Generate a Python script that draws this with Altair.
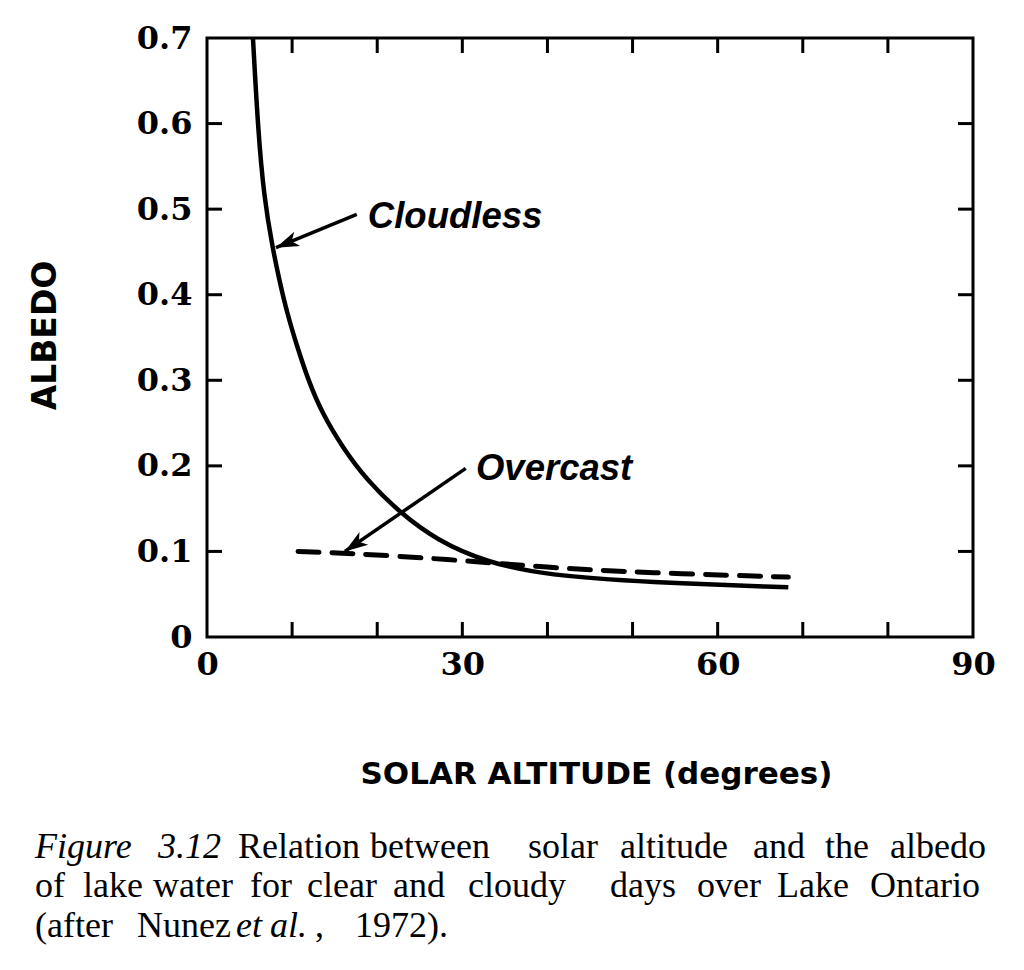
import math
import altair as alt
import pandas as pd

# curves (solar altitude in degrees, albedo)
cloudless_alt = [5.4, 6.0, 6.7, 7.7, 8.5, 9.4, 10.6, 11.9, 13.5, 15.9, 18.8, 22.7, 27.0, 32.9, 40.0, 51.7, 68.3]
cloudless_alb = [0.700, 0.592, 0.514, 0.455, 0.417, 0.379, 0.339, 0.300, 0.262, 0.222, 0.183, 0.145,
                 0.113, 0.087, 0.072, 0.064, 0.058]
overcast_alt = [10.7, 16.4, 28.2, 40.0, 51.7, 68.3]
overcast_alb = [0.100, 0.098, 0.091, 0.081, 0.075, 0.070]

x_labels = [0, 30, 60, 90]
y_labels = [0, 0.1, 0.2, 0.3, 0.4, 0.5, 0.6, 0.7]
x_minor = [10, 20, 30, 40, 50, 60, 70, 80]
y_minor = [0.1, 0.2, 0.3, 0.4, 0.5, 0.6]

# annotation labels and their arrows (tail -> tip, data units)
label_text = ["Cloudless", "Overcast"]
label_alt = [18.9, 31.6]
label_alb = [0.478, 0.183]
arrow_tail_alt = [17.6, 30.4]
arrow_tail_alb = [0.494, 0.197]
arrow_tip_alt = [8.1, 16.2]
arrow_tip_alb = [0.455, 0.100]

caption_words = [
    ["Figure", "3.12", "Relation", "between", "solar", "altitude", "and", "the", "albedo"],
    ["of", "lake", "water", "for", "clear", "and", "cloudy", "days", "over", "Lake", "Ontario"],
    ["(after", "Nunez", "et", "al.", ",", "1972)."],
]
caption_italic = [
    [True, True] + [False] * 7,
    [False] * 11,
    [False, False, True, True, False, False],
]

W, H = 766, 599
XMAX, YMAX = 90, 0.7
# word start positions on the page (justified setting), converted to data units below
caption_page_x = [
    [35, 158, 238, 370, 528, 620, 753, 825, 890],
    [35, 83, 153, 250, 307, 393, 468, 610, 697, 777, 870],
    [35, 137, 236, 270, 315, 355],
]
caption_page_y = [858, 897, 937]
PLOT_LEFT, PLOT_TOP = 207, 38

SERIF = "Liberation Serif"
NUM_FONT = "DejaVu Serif"
SANS = "DejaVu Sans"

xs = alt.Scale(domain=[0, XMAX], nice=False, zero=True)
ys = alt.Scale(domain=[0, YMAX], nice=False, zero=True)

cl = pd.DataFrame({"alt": cloudless_alt, "alb": cloudless_alb})
oc = pd.DataFrame({"alt": overcast_alt, "alb": overcast_alb})

x_axis = alt.Axis(values=x_labels, labelFont=NUM_FONT, labelFontWeight="bold", labelFontSize=32,
                  labelColor="black", labelPadding=12, labelOverlap=False, labelFlush=False,
                  title="SOLAR ALTITUDE (degrees)", titleFont=SANS, titleFontWeight="bold",
                  titleFontSize=31, titleColor="black", titleX=389, titleY=146,
                  titleBaseline="alphabetic")
y_axis = alt.Axis(values=y_labels, labelFont=NUM_FONT, labelFontWeight="bold", labelFontSize=32,
                  labelColor="black", labelPadding=15, labelOverlap=False, labelFlush=False,
                  labelExpr="datum.value == 0 ? '0' : format(datum.value, '.1f')",
                  title="ALBEDO", titleFont=SANS, titleFontWeight="bold", titleFontSize=33,
                  titleColor="black", titleX=-162, titleY=297, titleBaseline="middle")

cloudless = alt.Chart(cl).mark_line(interpolate="basis", color="black", strokeWidth=4.5).encode(
    x=alt.X("alt:Q", scale=xs, axis=x_axis),
    y=alt.Y("alb:Q", scale=ys, axis=y_axis),
)
overcast = alt.Chart(oc).mark_line(interpolate="basis", color="black", strokeWidth=5,
                                   strokeDash=[21, 13], strokeCap="round").encode(
    x=alt.X("alt:Q", scale=xs),
    y=alt.Y("alb:Q", scale=ys),
)

# inward ticks on all four sides
TL = 15
xt = pd.DataFrame({"v": x_minor})
yt = pd.DataFrame({"v": y_minor})
tick = dict(color="black", strokeWidth=3)
bottom_ticks = alt.Chart(xt).mark_rule(**tick).encode(
    x=alt.X("v:Q", scale=xs), y=alt.value(H), y2=alt.value(H - TL))
top_ticks = alt.Chart(xt).mark_rule(**tick).encode(
    x=alt.X("v:Q", scale=xs), y=alt.value(0), y2=alt.value(TL))
left_ticks = alt.Chart(yt).mark_rule(**tick).encode(
    y=alt.Y("v:Q", scale=ys), x=alt.value(0), x2=alt.value(TL))
right_ticks = alt.Chart(yt).mark_rule(**tick).encode(
    y=alt.Y("v:Q", scale=ys), x=alt.value(W), x2=alt.value(W - TL))

# arrows
ar = pd.DataFrame({"x0": arrow_tail_alt, "y0": arrow_tail_alb, "x1": arrow_tip_alt, "y1": arrow_tip_alb})
ar["ang"] = [
    (math.degrees(math.atan2((x1 - x0) * W / XMAX, (y1 - y0) * H / YMAX)) + 360) % 360
    for x0, y0, x1, y1 in zip(ar.x0, ar.y0, ar.x1, ar.y1)
]
shafts = alt.Chart(ar).mark_rule(color="black", strokeWidth=3.5).encode(
    x=alt.X("x0:Q", scale=xs), y=alt.Y("y0:Q", scale=ys),
    x2="x1:Q", y2="y1:Q")
heads = alt.Chart(ar).mark_point(
    shape="M0,0 L0.7,2.1 L0,1.55 L-0.7,2.1 Z", filled=True, color="black", opacity=1, size=480
).encode(
    x=alt.X("x1:Q", scale=xs), y=alt.Y("y1:Q", scale=ys),
    angle=alt.Angle("ang:Q", scale=None))

labels = alt.Chart(pd.DataFrame({"t": label_text, "x": label_alt, "y": label_alb})).mark_text(
    font="Liberation Sans", fontStyle="italic", fontWeight="bold", fontSize=36.5, align="left",
    baseline="alphabetic", color="black").encode(
    x=alt.X("x:Q", scale=xs), y=alt.Y("y:Q", scale=ys), text="t:N")

# caption under the figure, placed through the same scales (below the plot area)
rows = []
for line, (words, italics, pxs) in enumerate(zip(caption_words, caption_italic, caption_page_x)):
    for w, it, px in zip(words, italics, pxs):
        py = caption_page_y[line] - PLOT_TOP
        rows.append({"w": w, "it": it,
                     "cx": (px - PLOT_LEFT) * XMAX / W,
                     "cy": YMAX - py * YMAX / H})
cap = pd.DataFrame(rows)


def caption_part(df, style):
    return alt.Chart(df).mark_text(font=SERIF, fontSize=36, fontStyle=style, align="left",
                                   baseline="alphabetic", color="black").encode(
        x=alt.X("cx:Q", scale=xs), y=alt.Y("cy:Q", scale=ys), text="w:N")


caption_roman = caption_part(cap[~cap.it], "normal")
caption_ital = caption_part(cap[cap.it], "italic")

chart = alt.layer(
    cloudless, overcast, bottom_ticks, top_ticks, left_ticks, right_ticks, shafts, heads, labels,
    caption_roman, caption_ital
).properties(
    width=W, height=H,
    autosize=alt.AutoSizeParams(type="none"),
    padding={"left": 199, "top": 30, "right": 30, "bottom": 315},
).configure_view(
    stroke="black", strokeWidth=3
).configure_axis(
    domain=False, ticks=False, grid=False
)

chart.save("out.html", embed_options={"renderer": "svg", "actions": False})
